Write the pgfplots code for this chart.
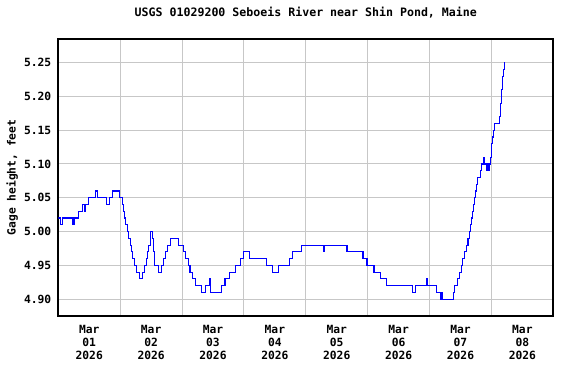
\documentclass[border=0pt]{standalone}
\usepackage{pgfplots}
\pgfplotsset{compat=1.18}
\usepackage{fontspec}
\setmonofont{DejaVu Sans Mono}
\newcommand{\lab}{\ttfamily\bfseries\fontsize{11.3}{13}\selectfont}
\newcommand{\tlab}{\ttfamily\bfseries\fontsize{11.6}{13}\selectfont}
\begin{document}
\begin{tikzpicture}
\useasboundingbox (0,0) rectangle (576pt,384pt);
\begin{axis}[
  at={(58.3pt,68pt)}, anchor=south west,
  scale only axis, width=495pt, height=277pt,
  xmin=0, xmax=8, ymin=4.875, ymax=5.285,
  axis line style={black, line width=1.6pt},
  xtick={0.5,1.5,2.5,3.5,4.5,5.5,6.5,7.5},
  xticklabels={{Mar\\01\\2026},{Mar\\02\\2026},{Mar\\03\\2026},{Mar\\04\\2026},{Mar\\05\\2026},{Mar\\06\\2026},{Mar\\07\\2026},{Mar\\08\\2026}},
  minor xtick={1,2,3,4,5,6,7},
  xmajorgrids=false, xminorgrids=true,
  ytick={4.90,4.95,5.00,5.05,5.10,5.15,5.20,5.25},
  ymajorgrids=true,
  grid style={color=black!22, line width=1pt},
  minor grid style={color=black!22, line width=1pt},
  major tick length=0pt, minor tick length=0pt,
  tick label style={font=\lab},
  /pgf/number format/assume math mode=true,
  /pgf/number format/fixed,
  /pgf/number format/fixed zerofill,
  /pgf/number format/precision=2,
  yticklabel style={xshift=-3.5pt},
  xticklabel style={align=center, yshift=-6pt},
  ylabel={Gage height, feet},
  ylabel style={font=\lab, at={(axis description cs:-0.093,0.5)}, anchor=center},
  title={USGS 01029200 Seboeis River near Shin Pond, Maine},
  title style={font=\tlab, at={(axis description cs:0.5,1)}, anchor=center, yshift=20pt},
  clip=true,
]
\addplot[const plot, color=blue, line width=1.1pt] table {
x y
0.000 5.02
0.032 5.01
0.065 5.02
0.226 5.01
0.253 5.02
0.323 5.03
0.387 5.04
0.419 5.03
0.440 5.04
0.489 5.05
0.608 5.06
0.634 5.05
0.774 5.04
0.827 5.05
0.871 5.06
0.995 5.05
1.032 5.04
1.053 5.03
1.069 5.02
1.085 5.01
1.113 5.00
1.140 4.99
1.161 4.98
1.177 4.97
1.205 4.96
1.237 4.95
1.269 4.94
1.311 4.93
1.366 4.94
1.398 4.95
1.419 4.96
1.440 4.97
1.456 4.98
1.484 4.99
1.495 5.00
1.521 4.99
1.532 4.98
1.540 4.97
1.548 4.95
1.618 4.94
1.673 4.95
1.699 4.96
1.726 4.97
1.758 4.98
1.818 4.99
1.947 4.98
2.021 4.97
2.060 4.96
2.102 4.95
2.129 4.94
2.173 4.93
2.215 4.92
2.318 4.91
2.382 4.92
2.440 4.93
2.463 4.91
2.640 4.92
2.694 4.93
2.774 4.94
2.866 4.95
2.947 4.96
2.989 4.97
3.097 4.96
3.366 4.95
3.456 4.94
3.560 4.95
3.731 4.96
3.785 4.97
3.931 4.98
4.282 4.97
4.298 4.98
4.666 4.97
4.924 4.96
4.989 4.95
5.102 4.94
5.210 4.93
5.311 4.92
5.731 4.91
5.769 4.92
5.952 4.93
5.973 4.92
6.108 4.91
6.173 4.90
6.198 4.91
6.215 4.90
6.392 4.91
6.408 4.92
6.447 4.93
6.484 4.94
6.511 4.95
6.527 4.96
6.569 4.97
6.597 4.98
6.621 4.99
6.640 5.00
6.656 5.01
6.673 5.02
6.689 5.03
6.705 5.04
6.726 5.05
6.737 5.06
6.763 5.07
6.782 5.08
6.818 5.09
6.844 5.10
6.871 5.11
6.892 5.10
6.919 5.09
6.940 5.10
6.952 5.09
6.968 5.10
6.984 5.11
6.995 5.12
7.008 5.13
7.021 5.14
7.032 5.15
7.056 5.16
7.137 5.17
7.145 5.18
7.153 5.19
7.161 5.20
7.169 5.21
7.177 5.22
7.185 5.23
7.194 5.24
7.205 5.25
7.210 5.25
};
\node[font=\tlab, text=red] at (rel axis cs:0.5,0) [yshift=-59pt] {---- Provisional Data Subject to Revision ----};
\end{axis}
\end{tikzpicture}
\end{document}
